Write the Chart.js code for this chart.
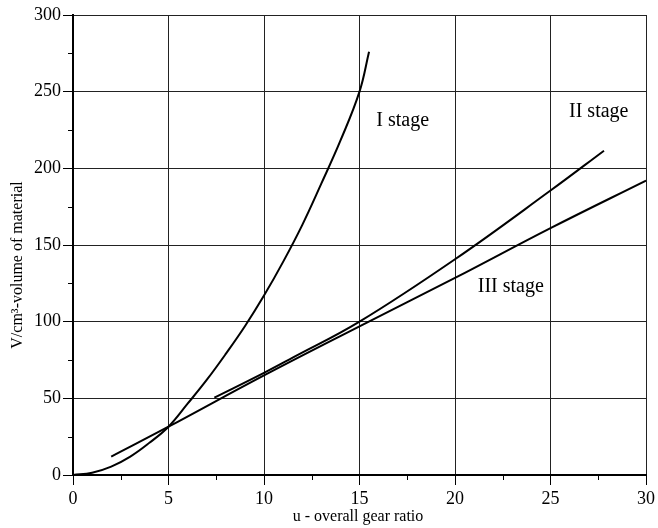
<!DOCTYPE html>
<html>
<head>
<meta charset="utf-8">
<script src="https://cdn.jsdelivr.net/npm/chart.js@4.4.1/dist/chart.umd.min.js"></script>
<style>
  html, body { margin: 0; padding: 0; background: #fff; }
  #wrap { width: 658px; height: 528px; }
</style>
</head>
<body>
<div id="wrap"><canvas id="grafico"></canvas></div>
<script>
// valores
const xEtapa1 = [0, 1, 2, 3, 4, 5, 6, 7, 8, 9, 10, 11, 12, 13, 14, 15, 15.5];
const yEtapa1 = [0, 1.5, 5.5, 12, 21, 31.5, 46.5, 62, 79, 97, 117, 139, 163, 190, 218, 250, 276];

const xEtapa2 = [7.4, 10, 11.5, 15, 20, 25, 27.8];
const yEtapa2 = [50.4, 66.6, 76.5, 100, 140.7, 185.5, 211.5];

const xEtapa3 = [2, 5, 10, 15, 20, 25, 30];
const yEtapa3 = [12, 31.5, 65, 97, 128.5, 161, 192];

const ticksX = [0, 5, 10, 15, 20, 25, 30];
const ticksY = [0, 50, 100, 150, 200, 250, 300];

const etiquetas = ["I stage", "II stage", "III stage"];
const tituloX = "u - overall gear ratio";
const tituloY = "V/cm\u00b3-volume of material";

const fuente = "'Liberation Serif', 'Times New Roman', serif";

function puntos(xs, ys) {
    return xs.map((x, i) => ({ x: x, y: ys[i] }));
}

function serie(xs, ys) {
    return {
        data: puntos(xs, ys),
        borderColor: '#000',
        borderWidth: 2,
        pointRadius: 0,
        fill: false,
        tension: 0.4
    };
}

// textos y marcas menores
const extras = {
    id: 'extras',
    afterDraw(chart) {
        const ctx = chart.ctx;
        const sx = chart.scales.x;
        const sy = chart.scales.y;
        const area = chart.chartArea;

        ctx.save();
        ctx.strokeStyle = '#000';
        ctx.lineWidth = 1;
        for (let v = 2.5; v < 30; v += 5) {
            const px = Math.round(sx.getPixelForValue(v)) + 0.5;
            ctx.beginPath();
            ctx.moveTo(px, area.bottom);
            ctx.lineTo(px, area.bottom + 5);
            ctx.stroke();
        }
        for (let v = 25; v < 300; v += 50) {
            const py = Math.round(sy.getPixelForValue(v)) + 0.5;
            ctx.beginPath();
            ctx.moveTo(area.left - 5, py);
            ctx.lineTo(area.left, py);
            ctx.stroke();
        }

        ctx.fillStyle = '#000';
        ctx.font = '20px ' + fuente;
        ctx.textBaseline = 'middle';
        ctx.textAlign = 'left';
        const posEtiquetas = [[15.88, 231], [25.97, 237], [21.19, 123]];
        etiquetas.forEach((t, i) => {
            ctx.fillText(t, sx.getPixelForValue(posEtiquetas[i][0]), sy.getPixelForValue(posEtiquetas[i][1]));
        });

        ctx.font = '16px ' + fuente;
        ctx.textAlign = 'center';
        ctx.fillText(tituloX, 358, 517);

        ctx.translate(18, 265);
        ctx.rotate(-Math.PI / 2);
        ctx.fillText(tituloY, 0, 0);
        ctx.restore();
    }
};

const config = {
    type: 'line',
    data: {
        datasets: [
            serie(xEtapa1, yEtapa1),
            serie(xEtapa2, yEtapa2),
            serie(xEtapa3, yEtapa3)
        ]
    },
    options: {
        responsive: false,
        animation: false,
        layout: { padding: { top: 15, right: 12, left: 0, bottom: 0 } },
        plugins: { legend: { display: false }, tooltip: { enabled: false } },
        scales: {
            x: {
                type: 'linear',
                min: 0,
                max: 30,
                afterFit: (s) => { s.height = 53; },
                afterBuildTicks: (s) => { s.ticks = ticksX.map((v) => ({ value: v })); },
                ticks: { color: '#000', padding: 3, font: { family: fuente, size: 18 }, maxRotation: 0 },
                grid: { color: '#222', lineWidth: 1, tickLength: 10, tickColor: '#000' },
                border: { color: '#000', width: 2 }
            },
            y: {
                min: 0,
                max: 300,
                afterFit: (s) => { s.width = 73; },
                afterBuildTicks: (s) => { s.ticks = ticksY.map((v) => ({ value: v })); },
                ticks: { color: '#000', padding: 2, font: { family: fuente, size: 18 } },
                grid: { color: '#222', lineWidth: 1, tickLength: 10, tickColor: '#000' },
                border: { color: '#000', width: 2 }
            }
        }
    },
    plugins: [extras]
};

const canvas = document.getElementById('grafico');
canvas.width = 658;
canvas.height = 528;
new Chart(canvas, config);
</script>
</body>
</html>
